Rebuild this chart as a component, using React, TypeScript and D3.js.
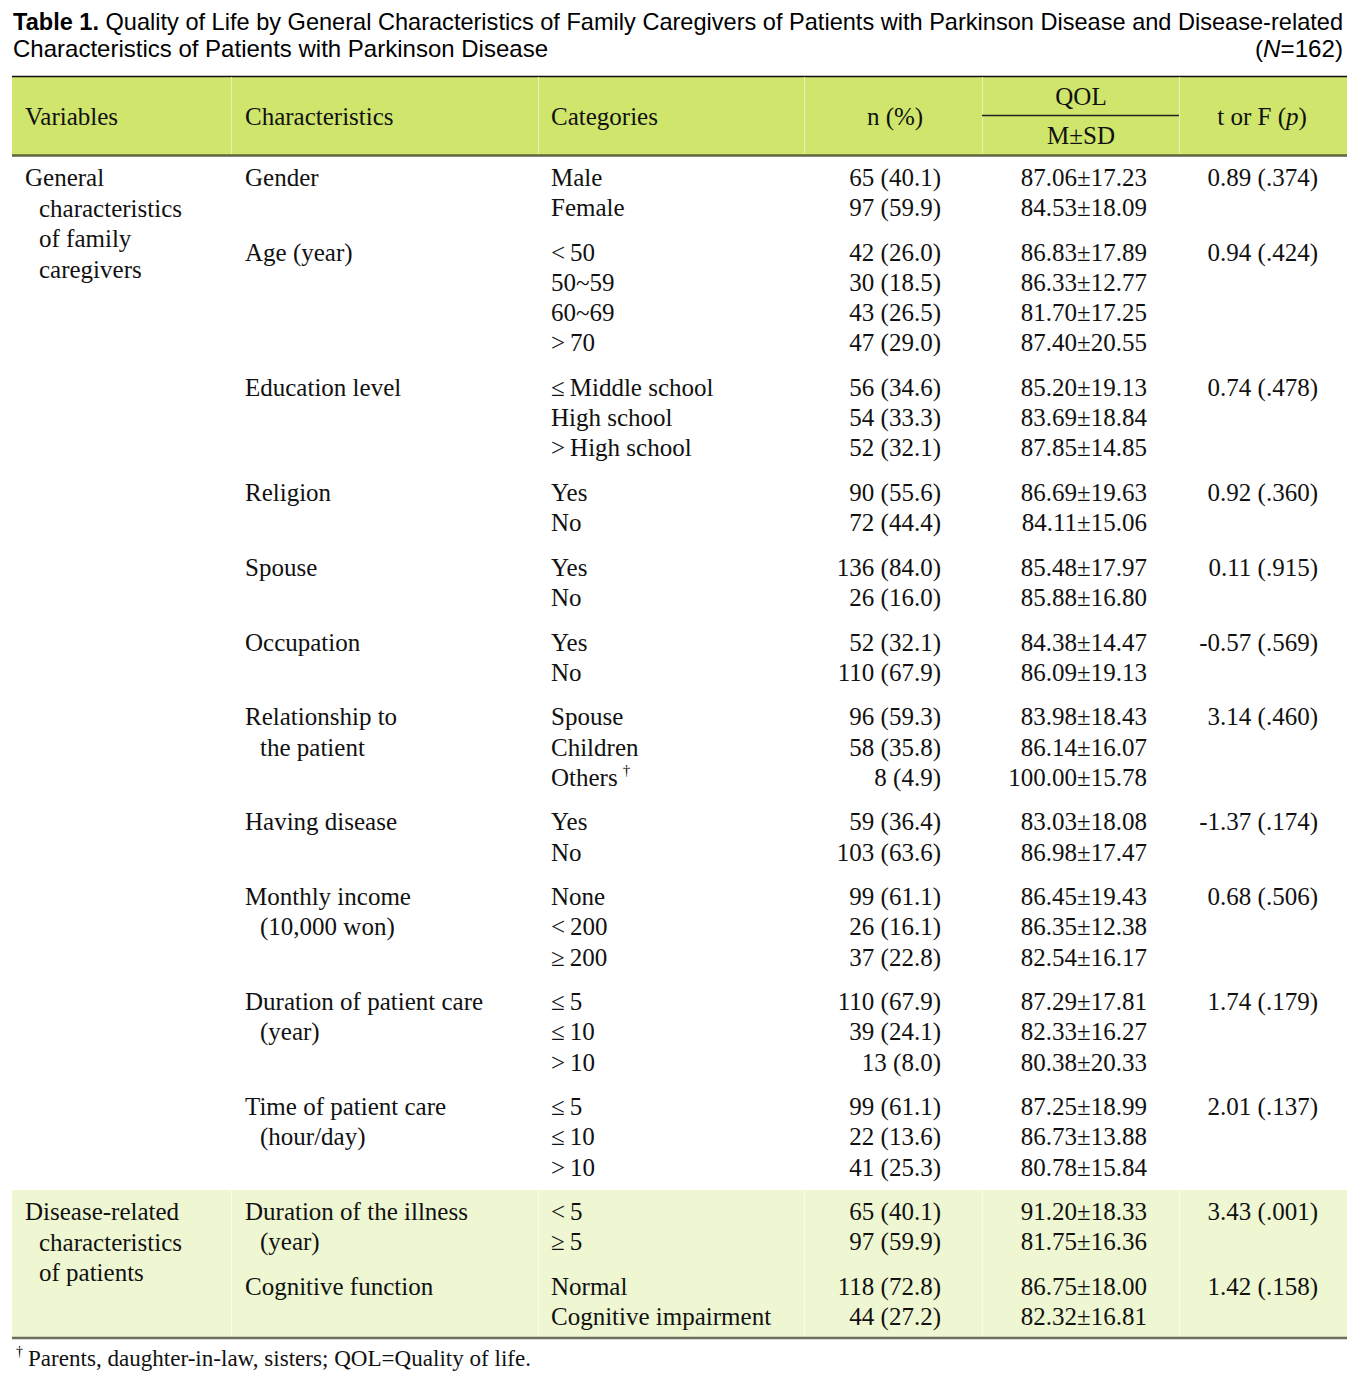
import * as d3 from "d3";
import { useEffect, useRef } from "react";

// Table content
const titleBold = "Table 1.";
const titleLine1 = " Quality of Life by General Characteristics of Family Caregivers of Patients with Parkinson Disease and Disease-related";
const titleLine2 = "Characteristics of Patients with Parkinson Disease";

const headers = ["Variables", "Characteristics", "Categories", "n (%)", "QOL", "M\u00B1SD", "t or F"];

interface Group {
    section: number; // 0 = family caregivers, 1 = patients
    label: string[];
    cats: string[];
    n: string[];
    qol: string[];
    stat: string;
}

const sectionLabels = [
    ["General", "characteristics", "of family", "caregivers"],
    ["Disease-related", "characteristics", "of patients"],
];

const groups: Group[] = [
    { section: 0, label: ["Gender"], cats: ["Male", "Female"], n: ["65 (40.1)", "97 (59.9)"], qol: ["87.06\u00B117.23", "84.53\u00B118.09"], stat: "0.89 (.374)" },
    { section: 0, label: ["Age (year)"], cats: ["<\u200950", "50~59", "60~69", ">\u200970"], n: ["42 (26.0)", "30 (18.5)", "43 (26.5)", "47 (29.0)"], qol: ["86.83\u00B117.89", "86.33\u00B112.77", "81.70\u00B117.25", "87.40\u00B120.55"], stat: "0.94 (.424)" },
    { section: 0, label: ["Education level"], cats: ["\u2264\u2009Middle school", "High school", ">\u2009High school"], n: ["56 (34.6)", "54 (33.3)", "52 (32.1)"], qol: ["85.20\u00B119.13", "83.69\u00B118.84", "87.85\u00B114.85"], stat: "0.74 (.478)" },
    { section: 0, label: ["Religion"], cats: ["Yes", "No"], n: ["90 (55.6)", "72 (44.4)"], qol: ["86.69\u00B119.63", "84.11\u00B115.06"], stat: "0.92 (.360)" },
    { section: 0, label: ["Spouse"], cats: ["Yes", "No"], n: ["136 (84.0)", "26 (16.0)"], qol: ["85.48\u00B117.97", "85.88\u00B116.80"], stat: "0.11 (.915)" },
    { section: 0, label: ["Occupation"], cats: ["Yes", "No"], n: ["52 (32.1)", "110 (67.9)"], qol: ["84.38\u00B114.47", "86.09\u00B119.13"], stat: "-0.57 (.569)" },
    { section: 0, label: ["Relationship to", "the patient"], cats: ["Spouse", "Children", "Others"], n: ["96 (59.3)", "58 (35.8)", "8 (4.9)"], qol: ["83.98\u00B118.43", "86.14\u00B116.07", "100.00\u00B115.78"], stat: "3.14 (.460)" },
    { section: 0, label: ["Having disease"], cats: ["Yes", "No"], n: ["59 (36.4)", "103 (63.6)"], qol: ["83.03\u00B118.08", "86.98\u00B117.47"], stat: "-1.37 (.174)" },
    { section: 0, label: ["Monthly income", "(10,000 won)"], cats: ["None", "<\u2009200", "\u2265\u2009200"], n: ["99 (61.1)", "26 (16.1)", "37 (22.8)"], qol: ["86.45\u00B119.43", "86.35\u00B112.38", "82.54\u00B116.17"], stat: "0.68 (.506)" },
    { section: 0, label: ["Duration of patient care", "(year)"], cats: ["\u2264\u20095", "\u2264\u200910", ">\u200910"], n: ["110 (67.9)", "39 (24.1)", "13 (8.0)"], qol: ["87.29\u00B117.81", "82.33\u00B116.27", "80.38\u00B120.33"], stat: "1.74 (.179)" },
    { section: 0, label: ["Time of patient care", "(hour/day)"], cats: ["\u2264\u20095", "\u2264\u200910", ">\u200910"], n: ["99 (61.1)", "22 (13.6)", "41 (25.3)"], qol: ["87.25\u00B118.99", "86.73\u00B113.88", "80.78\u00B115.84"], stat: "2.01 (.137)" },
    { section: 1, label: ["Duration of the illness", "(year)"], cats: ["<\u20095", "\u2265\u20095"], n: ["65 (40.1)", "97 (59.9)"], qol: ["91.20\u00B118.33", "81.75\u00B116.36"], stat: "3.43 (.001)" },
    { section: 1, label: ["Cognitive function"], cats: ["Normal", "Cognitive impairment"], n: ["118 (72.8)", "44 (27.2)"], qol: ["86.75\u00B118.00", "82.32\u00B116.81"], stat: "1.42 (.158)" },
];

const footnote = "Parents, daughter-in-law, sisters; QOL=Quality of life.";

function App() {
    const ref = useRef<SVGSVGElement>(null);
    const width = 1366;
    const height = 1377;

    useEffect(() => {
        document.body.style.margin = "0";
        const svg = d3.select(ref.current);
        svg.selectAll("*").remove();

        const serif = "'Liberation Serif', 'Times New Roman', serif";
        const sans = "'Liberation Sans', Arial, sans-serif";
        const fs = 25;
        const left = 12, right = 1347;
        const colX = [left, 231, 538, 804, 982, 1179, right];
        const rowH = 30.2, groupGap = 14.4, firstRow = 178;

        // row positions: row index -> y centre, plus group gaps
        const rowY = d3.scaleLinear().domain([0, 1]).range([firstRow, firstRow + rowH]);

        const rows: { g: number; r: number; gi: number; y: number }[] = [];
        let idx = 0;
        groups.forEach((g, gi) => {
            g.cats.forEach((_, r) => {
                rows.push({ g: gi, r, gi, y: rowY(idx) + gi * groupGap });
                idx++;
            });
        });
        const groupStartY = groups.map((_, gi) => rows.find((d) => d.gi === gi)!.y);

        // Title
        const t1 = svg.append("text")
            .attr("x", 13).attr("y", 30)
            .attr("font-family", sans).attr("font-size", 24)
            .attr("textLength", 1330).attr("lengthAdjust", "spacingAndGlyphs");
        t1.append("tspan").attr("font-weight", "bold").text(titleBold);
        t1.append("tspan").text(titleLine1);
        svg.append("text")
            .attr("x", 13).attr("y", 57)
            .attr("font-family", sans).attr("font-size", 24)
            .attr("textLength", 535).attr("lengthAdjust", "spacingAndGlyphs")
            .text(titleLine2);
        const nt = svg.append("text")
            .attr("x", 1343).attr("y", 57).attr("text-anchor", "end")
            .attr("font-family", sans).attr("font-size", 24)
            .attr("textLength", 88).attr("lengthAdjust", "spacingAndGlyphs");
        nt.append("tspan").text("(");
        nt.append("tspan").attr("font-style", "italic").text("N");
        nt.append("tspan").text("=162)");

        // Header band
        svg.append("rect").attr("x", left).attr("y", 77).attr("width", right - left).attr("height", 78).attr("fill", "#cfe56c");
        svg.append("line").attr("x1", left).attr("x2", right).attr("y1", 76.5).attr("y2", 76.5).attr("stroke", "#111").attr("stroke-width", 1.6);
        svg.selectAll(".hsep").data(colX.slice(1, -1)).join("line")
            .attr("x1", (d) => d + 0.5).attr("x2", (d) => d + 0.5)
            .attr("y1", 77).attr("y2", 155)
            .attr("stroke", "#e6f0b8").attr("stroke-width", 1);
        svg.append("line").attr("x1", colX[4]).attr("x2", colX[5]).attr("y1", 115.5).attr("y2", 115.5).attr("stroke", "#222").attr("stroke-width", 1.3);
        svg.append("line").attr("x1", left).attr("x2", right).attr("y1", 155.5).attr("y2", 155.5).attr("stroke", "#5f6440").attr("stroke-width", 2.5);

        // Patient section band
        const secTop = 1190, secBot = 1337;
        svg.append("rect").attr("x", left).attr("y", secTop).attr("width", right - left).attr("height", secBot - secTop).attr("fill", "#eef7d2");
        svg.selectAll(".ssep").data(colX.slice(1, -1)).join("line")
            .attr("x1", (d) => d + 0.5).attr("x2", (d) => d + 0.5)
            .attr("y1", secTop).attr("y2", secBot)
            .attr("stroke", "#f8fcea").attr("stroke-width", 1);
        svg.append("line").attr("x1", left).attr("x2", right).attr("y1", secBot + 1).attr("y2", secBot + 1).attr("stroke", "#6e6e5e").attr("stroke-width", 2.5);

        const txt = (x: number, y: number, s: string, anchor = "start") =>
            svg.append("text").attr("x", x).attr("y", y + 8).attr("text-anchor", anchor)
                .attr("font-family", serif).attr("font-size", fs).attr("fill", "#111").text(s);

        // Header texts
        txt(25, 117, headers[0]);
        txt(245, 117, headers[1]);
        txt(551, 117, headers[2]);
        txt(895, 117, headers[3], "middle");
        txt(1081, 97, headers[4], "middle");
        txt(1081, 136, headers[5], "middle");
        const tf = txt(1262, 117, headers[6] + " (", "middle");
        tf.append("tspan").attr("font-style", "italic").text("p");
        tf.append("tspan").text(")");

        // Section labels
        sectionLabels.forEach((lines, si) => {
            const gi = groups.findIndex((g) => g.section === si);
            lines.forEach((l, li) => txt(li === 0 ? 25 : 39, groupStartY[gi] + li * 30.5, l));
        });

        // Characteristic labels and test statistics
        groups.forEach((g, gi) => {
            g.label.forEach((l, li) => txt(li === 0 ? 245 : 260, groupStartY[gi] + li * rowH, l));
            txt(1318, groupStartY[gi], g.stat, "end");
        });

        // Rows
        rows.forEach((d) => {
            const g = groups[d.g];
            const c = txt(551, d.y, g.cats[d.r]);
            if (g.cats[d.r] === "Others") {
                c.append("tspan").attr("font-size", 15).attr("dx", 5).attr("dy", -11).text("\u2020");
            }
            txt(941, d.y, g.n[d.r], "end");
            txt(1147, d.y, g.qol[d.r], "end");
        });

        // Footnote
        svg.append("text").attr("x", 16).attr("y", 1356)
            .attr("font-family", serif).attr("font-size", 14).text("\u2020");
        svg.append("text").attr("x", 28).attr("y", 1366)
            .attr("font-family", serif).attr("font-size", 23).attr("fill", "#111")
            .attr("textLength", 503).attr("lengthAdjust", "spacingAndGlyphs")
            .text(footnote);
    }, []);

    return <svg ref={ref} width={width} height={height} style={{ display: "block", background: "#fff" }} />;
}

export default App;
